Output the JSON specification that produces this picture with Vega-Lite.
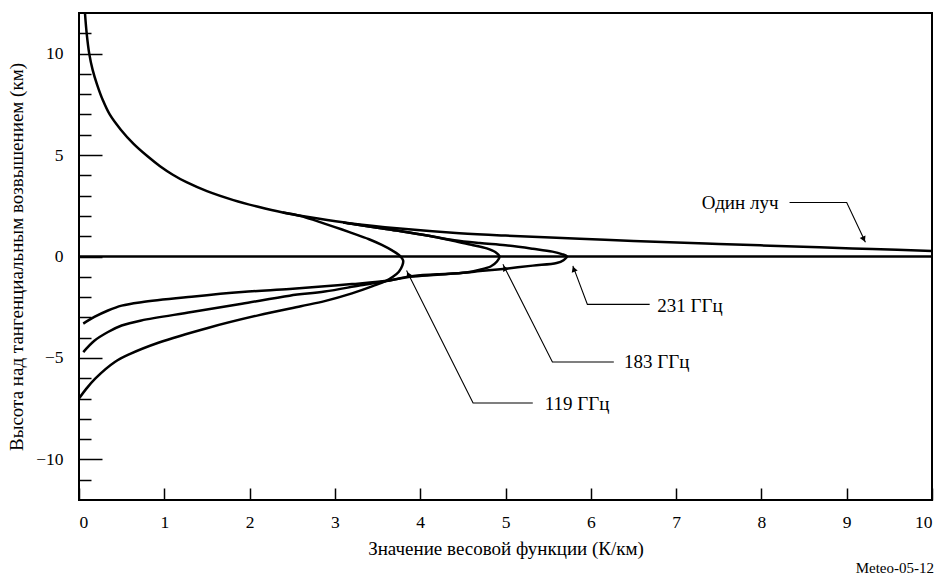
{
  "$schema": "https://vega.github.io/schema/vega-lite/v6.json",
  "width": 853,
  "height": 487,
  "autosize": {"type": "none"},
  "padding": {"left": 79, "top": 13, "right": 10, "bottom": 74},
  "background": "white",
  "title": {"text": "Meteo-05-12", "orient": "bottom", "anchor": "end", "fontSize": 15, "font": "Liberation Serif", "fontWeight": "normal", "color": "black", "offset": 2, "dx": -3},
  "config": {
    "view": {"stroke": "black", "strokeWidth": 2},
    "axis": {
      "labelFont": "Liberation Serif", "labelFontSize": 17.5, "labelColor": "black",
      "titleFont": "Liberation Serif", "titleFontSize": 19, "titleFontWeight": "normal", "titleColor": "black",
      "domain": false, "grid": false, "tickColor": "black", "tickWidth": 1.5
    }
  },
  "datasets": {
    "curves": [
      {"series": "baseline", "i": 0, "x": 0, "y": 0},
      {"series": "baseline", "i": 1, "x": 10, "y": 0},
      {"series": "one", "i": 0, "x": 0.07, "y": 12},
      {"series": "one", "i": 1, "x": 0.09, "y": 11},
      {"series": "one", "i": 2, "x": 0.12, "y": 10},
      {"series": "one", "i": 3, "x": 0.16, "y": 9.2},
      {"series": "one", "i": 4, "x": 0.21, "y": 8.5},
      {"series": "one", "i": 5, "x": 0.28, "y": 7.7},
      {"series": "one", "i": 6, "x": 0.36, "y": 7.0},
      {"series": "one", "i": 7, "x": 0.49, "y": 6.25},
      {"series": "one", "i": 8, "x": 0.64, "y": 5.55},
      {"series": "one", "i": 9, "x": 0.8, "y": 4.95},
      {"series": "one", "i": 10, "x": 0.95, "y": 4.45},
      {"series": "one", "i": 11, "x": 1.1, "y": 4.03},
      {"series": "one", "i": 12, "x": 1.26, "y": 3.66},
      {"series": "one", "i": 13, "x": 1.5, "y": 3.22},
      {"series": "one", "i": 14, "x": 1.81, "y": 2.78},
      {"series": "one", "i": 15, "x": 2.1, "y": 2.45},
      {"series": "one", "i": 16, "x": 2.39, "y": 2.17},
      {"series": "one", "i": 17, "x": 2.8, "y": 1.87},
      {"series": "one", "i": 18, "x": 3.17, "y": 1.64},
      {"series": "one", "i": 19, "x": 3.76, "y": 1.38},
      {"series": "one", "i": 20, "x": 4.46, "y": 1.15},
      {"series": "one", "i": 21, "x": 5.0, "y": 1.03},
      {"series": "one", "i": 22, "x": 5.87, "y": 0.88},
      {"series": "one", "i": 23, "x": 6.5, "y": 0.76},
      {"series": "one", "i": 24, "x": 7.5, "y": 0.62},
      {"series": "one", "i": 25, "x": 8.68, "y": 0.45},
      {"series": "one", "i": 26, "x": 9.3, "y": 0.37},
      {"series": "one", "i": 27, "x": 10, "y": 0.27},
      {"series": "183", "i": 0, "x": 3.1, "y": 1.67},
      {"series": "183", "i": 1, "x": 3.5, "y": 1.42},
      {"series": "183", "i": 2, "x": 3.76, "y": 1.26},
      {"series": "183", "i": 3, "x": 4.1, "y": 1.02},
      {"series": "183", "i": 4, "x": 4.4, "y": 0.76},
      {"series": "183", "i": 5, "x": 4.6, "y": 0.58},
      {"series": "183", "i": 6, "x": 4.78, "y": 0.4},
      {"series": "183", "i": 7, "x": 4.88, "y": 0.22},
      {"series": "183", "i": 8, "x": 4.93, "y": 0.0},
      {"series": "183", "i": 9, "x": 4.9, "y": -0.25},
      {"series": "183", "i": 10, "x": 4.83, "y": -0.48},
      {"series": "183", "i": 11, "x": 4.7, "y": -0.65},
      {"series": "183", "i": 12, "x": 4.54, "y": -0.79},
      {"series": "183", "i": 13, "x": 4.2, "y": -0.88},
      {"series": "183", "i": 14, "x": 3.88, "y": -0.98},
      {"series": "183", "i": 15, "x": 3.64, "y": -1.18},
      {"series": "183", "i": 16, "x": 3.3, "y": -1.42},
      {"series": "183", "i": 17, "x": 2.88, "y": -1.73},
      {"series": "183", "i": 18, "x": 2.47, "y": -1.93},
      {"series": "183", "i": 19, "x": 1.91, "y": -2.33},
      {"series": "183", "i": 20, "x": 1.32, "y": -2.74},
      {"series": "183", "i": 21, "x": 0.73, "y": -3.15},
      {"series": "183", "i": 22, "x": 0.5, "y": -3.4},
      {"series": "183", "i": 23, "x": 0.34, "y": -3.72},
      {"series": "183", "i": 24, "x": 0.18, "y": -4.15},
      {"series": "183", "i": 25, "x": 0.05, "y": -4.71},
      {"series": "231", "i": 0, "x": 3.1, "y": 1.67},
      {"series": "231", "i": 1, "x": 3.5, "y": 1.42},
      {"series": "231", "i": 2, "x": 3.76, "y": 1.26},
      {"series": "231", "i": 3, "x": 4.1, "y": 1.02},
      {"series": "231", "i": 4, "x": 4.4, "y": 0.8},
      {"series": "231", "i": 5, "x": 4.7, "y": 0.66},
      {"series": "231", "i": 6, "x": 5.0, "y": 0.55},
      {"series": "231", "i": 7, "x": 5.32, "y": 0.38},
      {"series": "231", "i": 8, "x": 5.55, "y": 0.24},
      {"series": "231", "i": 9, "x": 5.66, "y": 0.12},
      {"series": "231", "i": 10, "x": 5.72, "y": 0.0},
      {"series": "231", "i": 11, "x": 5.68, "y": -0.18},
      {"series": "231", "i": 12, "x": 5.6, "y": -0.32},
      {"series": "231", "i": 13, "x": 5.32, "y": -0.45},
      {"series": "231", "i": 14, "x": 5.0, "y": -0.6},
      {"series": "231", "i": 15, "x": 4.7, "y": -0.72},
      {"series": "231", "i": 16, "x": 4.54, "y": -0.79},
      {"series": "231", "i": 17, "x": 4.2, "y": -0.9},
      {"series": "231", "i": 18, "x": 3.88, "y": -1.0},
      {"series": "231", "i": 19, "x": 3.64, "y": -1.18},
      {"series": "231", "i": 20, "x": 3.2, "y": -1.36},
      {"series": "231", "i": 21, "x": 2.88, "y": -1.47},
      {"series": "231", "i": 22, "x": 2.47, "y": -1.6},
      {"series": "231", "i": 23, "x": 1.91, "y": -1.75},
      {"series": "231", "i": 24, "x": 1.32, "y": -1.98},
      {"series": "231", "i": 25, "x": 0.73, "y": -2.25},
      {"series": "231", "i": 26, "x": 0.5, "y": -2.42},
      {"series": "231", "i": 27, "x": 0.34, "y": -2.66},
      {"series": "231", "i": 28, "x": 0.18, "y": -2.98},
      {"series": "231", "i": 29, "x": 0.05, "y": -3.31},
      {"series": "119", "i": 0, "x": 2.39, "y": 2.17},
      {"series": "119", "i": 1, "x": 2.6, "y": 2.0},
      {"series": "119", "i": 2, "x": 2.8, "y": 1.73},
      {"series": "119", "i": 3, "x": 3.0, "y": 1.45},
      {"series": "119", "i": 4, "x": 3.17, "y": 1.2},
      {"series": "119", "i": 5, "x": 3.4, "y": 0.85},
      {"series": "119", "i": 6, "x": 3.55, "y": 0.57},
      {"series": "119", "i": 7, "x": 3.67, "y": 0.3},
      {"series": "119", "i": 8, "x": 3.75, "y": 0.08},
      {"series": "119", "i": 9, "x": 3.8, "y": -0.2},
      {"series": "119", "i": 10, "x": 3.79, "y": -0.45},
      {"series": "119", "i": 11, "x": 3.75, "y": -0.75},
      {"series": "119", "i": 12, "x": 3.68, "y": -1.0},
      {"series": "119", "i": 13, "x": 3.6, "y": -1.2},
      {"series": "119", "i": 14, "x": 3.45, "y": -1.45},
      {"series": "119", "i": 15, "x": 3.2, "y": -1.82},
      {"series": "119", "i": 16, "x": 2.88, "y": -2.2},
      {"series": "119", "i": 17, "x": 2.6, "y": -2.45},
      {"series": "119", "i": 18, "x": 2.1, "y": -2.9},
      {"series": "119", "i": 19, "x": 1.51, "y": -3.52},
      {"series": "119", "i": 20, "x": 0.93, "y": -4.25},
      {"series": "119", "i": 21, "x": 0.6, "y": -4.8},
      {"series": "119", "i": 22, "x": 0.42, "y": -5.2},
      {"series": "119", "i": 23, "x": 0.19, "y": -6.02},
      {"series": "119", "i": 24, "x": 0.08, "y": -6.55},
      {"series": "119", "i": 25, "x": 0.0, "y": -7.0}
    ],
    "leaders": [
      {"leader": "one", "i": 0, "x": 8.33, "y": 2.66},
      {"leader": "one", "i": 1, "x": 9.0, "y": 2.66},
      {"leader": "one", "i": 2, "x": 9.22, "y": 0.7},
      {"leader": "231", "i": 0, "x": 5.79, "y": -0.46},
      {"leader": "231", "i": 1, "x": 5.96, "y": -2.36},
      {"leader": "231", "i": 2, "x": 6.69, "y": -2.36},
      {"leader": "183", "i": 0, "x": 4.97, "y": -0.38},
      {"leader": "183", "i": 1, "x": 5.55, "y": -5.2},
      {"leader": "183", "i": 2, "x": 6.27, "y": -5.2},
      {"leader": "119", "i": 0, "x": 3.84, "y": -0.69},
      {"leader": "119", "i": 1, "x": 4.62, "y": -7.22},
      {"leader": "119", "i": 2, "x": 5.32, "y": -7.22}
    ],
    "labels": [
      {"label": "Один луч", "x": 8.2, "y": 2.66, "side": "right"},
      {"label": "231 ГГц", "x": 6.78, "y": -2.42, "side": "left"},
      {"label": "183 ГГц", "x": 6.39, "y": -5.22, "side": "left"},
      {"label": "119 ГГц", "x": 5.46, "y": -7.26, "side": "left"}
    ],
    "tips": [
      {"tip": "one", "x": 9.2, "y": 0.85},
      {"tip": "231", "x": 5.8, "y": -0.62},
      {"tip": "183", "x": 4.99, "y": -0.57},
      {"tip": "119", "x": 3.86, "y": -0.88}
    ]
  },
  "resolve": {"axis": {"y": "independent", "x": "independent"}},
  "layer": [
    {
      "data": {"name": "curves"},
      "mark": {"type": "line", "color": "black", "strokeWidth": 2.5, "interpolate": "catmull-rom"},
      "encoding": {
        "x": {"field": "x", "type": "quantitative", "scale": {"domain": [0, 10], "nice": false, "zero": false},
              "axis": {"values": [0,1,2,3,4,5,6,7,8,9,10], "tickSize": -12, "labelPadding": 25, "title": "Значение весовой функции (К/км)", "titlePadding": 9, "format": "d"}},
        "y": {"field": "y", "type": "quantitative", "scale": {"domain": [-12, 12], "nice": false, "zero": false},
              "axis": {"orient": "left", "values": [-10, -5, 0, 5, 10], "tickSize": -23, "labelPadding": 39, "title": "Высота над тангенциальным возвышением (км)", "titlePadding": 9}},
        "detail": {"field": "series"},
        "order": {"field": "i", "type": "quantitative"}
      }
    },
    {
      "data": {"name": "leaders"},
      "mark": {"type": "line", "color": "black", "strokeWidth": 1.1},
      "encoding": {
        "x": {"field": "x", "type": "quantitative", "axis": null},
        "y": {"field": "y", "type": "quantitative",
              "axis": {"orient": "left", "values": [-11,-9,-8,-7,-6,-4,-3,-2,-1,1,2,3,4,6,7,8,9,11], "tickSize": -12, "labels": false, "title": null}},
        "detail": {"field": "leader"},
        "order": {"field": "i", "type": "quantitative"}
      }
    },
    {
      "data": {"name": "labels"},
      "transform": [{"filter": "datum.side === 'right'"}],
      "mark": {"type": "text", "font": "Liberation Serif", "fontSize": 19, "color": "black", "baseline": "middle", "align": "right"},
      "encoding": {
        "x": {"field": "x", "type": "quantitative", "axis": null},
        "y": {"field": "y", "type": "quantitative", "axis": null},
        "text": {"field": "label"}
      }
    },
    {
      "data": {"name": "labels"},
      "transform": [{"filter": "datum.side === 'left'"}],
      "mark": {"type": "text", "font": "Liberation Serif", "fontSize": 19, "color": "black", "baseline": "middle", "align": "left"},
      "encoding": {
        "x": {"field": "x", "type": "quantitative", "axis": null},
        "y": {"field": "y", "type": "quantitative", "axis": null},
        "text": {"field": "label"}
      }
    },
    {
      "data": {"name": "tips"},
      "transform": [{"filter": "datum.tip === 'one'"}],
      "mark": {"type": "point", "shape": "triangle-up", "filled": true, "color": "black", "size": 40, "angle": 155, "opacity": 1},
      "encoding": {"x": {"field": "x", "type": "quantitative", "axis": null}, "y": {"field": "y", "type": "quantitative", "axis": null}}
    },
    {
      "data": {"name": "tips"},
      "transform": [{"filter": "datum.tip === '231'"}],
      "mark": {"type": "point", "shape": "triangle-up", "filled": true, "color": "black", "size": 40, "angle": 339, "opacity": 1},
      "encoding": {"x": {"field": "x", "type": "quantitative", "axis": null}, "y": {"field": "y", "type": "quantitative", "axis": null}}
    },
    {
      "data": {"name": "tips"},
      "transform": [{"filter": "datum.tip === '183'"}],
      "mark": {"type": "point", "shape": "triangle-up", "filled": true, "color": "black", "size": 40, "angle": 333, "opacity": 1},
      "encoding": {"x": {"field": "x", "type": "quantitative", "axis": null}, "y": {"field": "y", "type": "quantitative", "axis": null}}
    },
    {
      "data": {"name": "tips"},
      "transform": [{"filter": "datum.tip === '119'"}],
      "mark": {"type": "point", "shape": "triangle-up", "filled": true, "color": "black", "size": 40, "angle": 333, "opacity": 1},
      "encoding": {"x": {"field": "x", "type": "quantitative", "axis": null}, "y": {"field": "y", "type": "quantitative", "axis": null}}
    }
  ]
}
